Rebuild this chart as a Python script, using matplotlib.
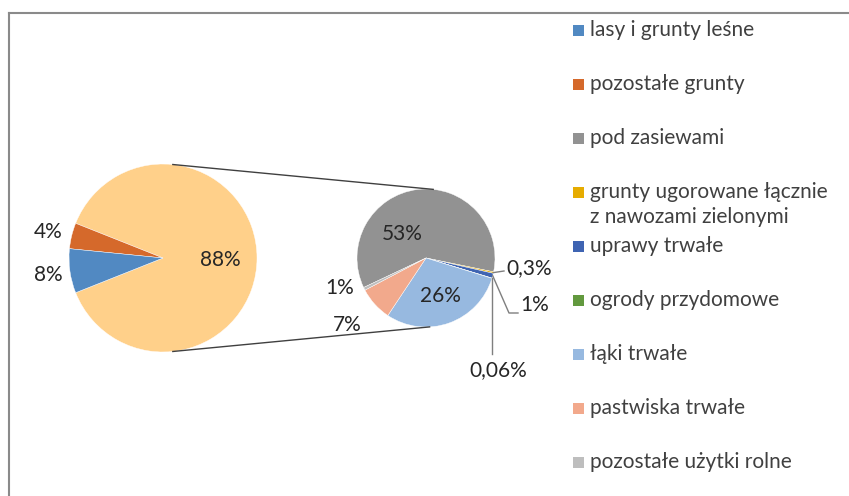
import matplotlib
matplotlib.use("Agg")
import matplotlib.pyplot as plt
from matplotlib.patches import Rectangle
import numpy as np

plt.rcParams['font.family'] = ['Lato', 'DejaVu Sans']

# share of total area, % (first pie: farmland is split out in the second pie)
forest = 7.6  # lasy i grunty leśne
other_land = 4.44  # pozostałe grunty
farm_names = ["pod zasiewami", "grunty ugorowane łącznie\nz nawozami zielonymi",
              "uprawy trwałe", "ogrody przydomowe", "łąki trwałe",
              "pastwiska trwałe", "pozostałe użytki rolne"]
farm_values = [53, 0.3, 1, 0.06, 26, 7, 0.6]
farm_colors = ["#929292", "#E6AC00", "#3F64B2", "#62993E", "#97B9E0",
               "#F2A98C", "#BEBEBE"]
forest_color = "#5189C2"
other_color = "#D5692B"
farm_total_color = "#FFD08A"

legend_names = ["lasy i grunty leśne", "pozostałe grunty"] + farm_names
legend_colors = [forest_color, other_color] + farm_colors

W, H = 849, 496
txt = "#262626"


def py(y):  # pixel row -> data y
    return H - y


def fmt(v):
    if v >= 0.5:
        return f"{round(v)}%"
    return f"{v:g}".replace(".", ",") + "%"


fig = plt.figure(figsize=(W / 100, H / 100), dpi=100)
ax = fig.add_axes([0, 0, 1, 1])

# frame (top and left only visible)
ax.plot([9, W], [py(13), py(13)], color="#8a8a8a", lw=1.5)
ax.plot([9, 9], [py(13), 0], color="#8a8a8a", lw=1.5)

farm_sum = sum(farm_values)
c1, r1 = (163, py(258)), 94
c2, r2 = (426, py(258)), 69

# first pie
vals1 = [farm_sum, other_land, forest]
w1, _ = ax.pie(vals1, colors=[farm_total_color, other_color, forest_color],
               startangle=-farm_sum / 100 * 360 / 2, counterclock=True,
               center=c1, radius=r1, frame=True,
               wedgeprops=dict(edgecolor="white", linewidth=0.3))

# second pie
start2 = -11.6 + farm_values[0] / farm_sum * 360
w2, _ = ax.pie(farm_values, colors=farm_colors, startangle=start2,
               counterclock=False, center=c2, radius=r2, frame=True,
               wedgeprops=dict(edgecolor="white", linewidth=0.3))
ax.set_xlim(0, W)
ax.set_ylim(0, H)
ax.axis("off")
ax.set_aspect("equal")

# connector lines
for a1, a2 in [(84, 84), (-84, -87)]:
    p1 = (c1[0] + r1 * np.cos(np.radians(a1)), c1[1] + r1 * np.sin(np.radians(a1)))
    p2 = (c2[0] + r2 * np.cos(np.radians(a2)), c2[1] + r2 * np.sin(np.radians(a2)))
    ax.plot([p1[0], p2[0]], [p1[1], p2[1]], color="#404040", lw=1)

fs = 15
# labels first pie
ax.text(220, py(260), fmt(farm_sum), ha="center", va="center", fontsize=fs, color=txt)
ax.text(48, py(232), fmt(other_land), ha="center", va="center", fontsize=fs, color=txt)
ax.text(48, py(275), fmt(forest), ha="center", va="center", fontsize=fs, color=txt)


def edge(w):
    m = np.radians((w.theta1 + w.theta2) / 2)
    return c2[0] + r2 * np.cos(m), c2[1] + r2 * np.sin(m)


# labels second pie
ax.text(402, py(234), fmt(farm_values[0]), ha="center", va="center", fontsize=fs, color=txt)
ax.text(440, py(296), fmt(farm_values[4]), ha="center", va="center", fontsize=fs, color=txt)
ax.text(347, py(325), fmt(farm_values[5]), ha="center", va="center", fontsize=fs, color=txt)
ax.text(340, py(288), fmt(farm_values[6]), ha="center", va="center", fontsize=fs, color=txt)

e = edge(w2[1])
ax.plot([e[0], 504], [e[1], py(271)], color="#7f7f7f", lw=1)
ax.text(506, py(268), fmt(farm_values[1]), ha="left", va="center", fontsize=fs, color=txt)

e = edge(w2[2])
ax.plot([e[0], 509, 518], [e[1], py(313), py(313)], color="#7f7f7f", lw=1)
ax.text(520, py(305), fmt(farm_values[2]), ha="left", va="center", fontsize=fs, color=txt)

e = edge(w2[3])
ax.plot([e[0], e[0]], [e[1], py(354)], color="#7f7f7f", lw=1)
ax.text(498, py(370), fmt(farm_values[3]), ha="center", va="center", fontsize=fs, color=txt)

# legend
for i, (name, col) in enumerate(zip(legend_names, legend_colors)):
    y = 30 + 54 * i
    ax.add_patch(Rectangle((573, py(y) - 5.5), 11, 11, facecolor=col, edgecolor="none"))
    for j, line in enumerate(name.split("\n")):
        ax.text(590, py(y + 25 * j), line, ha="left", va="center", fontsize=fs, color="#404040")

fig.savefig("out.png", dpi=100)
